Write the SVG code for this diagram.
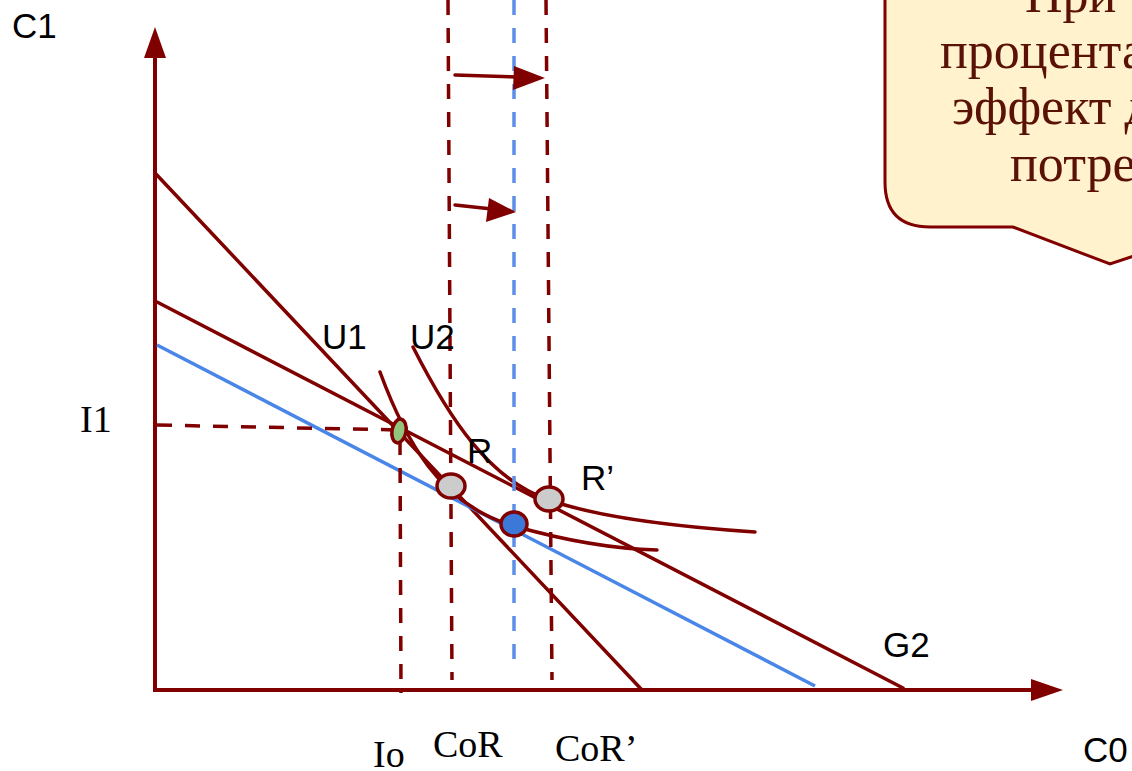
<svg xmlns="http://www.w3.org/2000/svg" width="1132" height="771" viewBox="0 0 1132 771">
<defs>
<style>
.ax{stroke:#800000;stroke-width:4;fill:none}
.ln{stroke:#800000;stroke-width:3.5;fill:none;stroke-linecap:round}
.bl{stroke:#4a86e8;stroke-width:3.5;fill:none}
.dr{stroke:#800000;stroke-width:3.5;fill:none;stroke-dasharray:15 13}
.db{stroke:#5b8fe8;stroke-width:3.5;fill:none;stroke-dasharray:15 13}
.lab{font-family:"Liberation Sans",Arial,sans-serif;font-size:35px;fill:#000}
.ser{font-family:"Liberation Serif","Times New Roman",serif;font-size:38px;fill:#000}
.call{font-family:"Liberation Serif","Times New Roman",serif;font-size:52px;fill:#5a1206}
.pt{stroke:#800000;stroke-width:3.5}
</style>
</defs>

<g id="callout">
<path d="M885,-10 L885,182 Q885,227 930,227 L1013,227 L1110,264 L1140,254 L1140,-10 Z" fill="#fff2cc" stroke="#800000" stroke-width="3"/>
<text class="call" x="1025" y="12">При</text>
<text class="call" x="940" y="68">процента</text>
<text class="call" x="952" y="124">эффект д</text>
<text class="call" x="1010" y="181">потре</text>
</g>

<g id="axes">
<line class="ax" x1="155" y1="692" x2="155" y2="56"/>
<path d="M155,27 L166,58 L144,58 Z" fill="#800000"/>
<line class="ax" x1="153" y1="690" x2="1033" y2="690"/>
<path d="M1063,690 L1031,679 L1031,701 Z" fill="#800000"/>
</g>

<g id="connectors">
<line class="ln" x1="155" y1="173" x2="642" y2="690"/>
<line class="ln" x1="157" y1="302" x2="903" y2="688"/>
<line class="bl" x1="157" y1="345" x2="815" y2="686"/>
<path class="ln" d="M380,372 C405,440 440,505 514,526 C570,542 620,549 657,550"/>
<path class="ln" d="M413,347 C450,420 490,480 549,500 C600,518 680,527 755,532"/>
<line class="dr" x1="157" y1="425" x2="400" y2="430"/>
<line class="dr" x1="400" y1="440" x2="401" y2="693"/>
<line class="dr" x1="448" y1="0" x2="452" y2="680"/>
<line class="db" x1="514" y1="0" x2="514" y2="672"/>
<line class="dr" x1="546" y1="0" x2="552" y2="680"/>
<line class="ln" x1="455" y1="75" x2="520" y2="77" stroke-width="4"/>
<path d="M545,78 L514,66 L513,90 Z" fill="#800000"/>
<line class="ln" x1="455" y1="205" x2="492" y2="209" stroke-width="4"/>
<path d="M516,212 L489,198 L486,222 Z" fill="#800000"/>
</g>

<g id="pointA"><ellipse class="pt" cx="399" cy="431" rx="7" ry="12" transform="rotate(10 399 431)" fill="#93c47d"/></g>
<g id="pointR"><ellipse class="pt" cx="451" cy="486" rx="14" ry="12" fill="#cccccc"/></g>
<g id="pointB"><ellipse class="pt" cx="514" cy="524" rx="13" ry="12" fill="#3c78d8"/></g>
<g id="pointR2"><ellipse class="pt" cx="549" cy="499" rx="14" ry="12" fill="#cccccc"/></g>

<g id="labels">
<text class="lab" x="12" y="38">C1</text>
<text class="lab" x="322" y="349">U1</text>
<text class="lab" x="410" y="349">U2</text>
<text class="lab" x="467" y="463">R</text>
<text class="lab" x="581" y="490">R’</text>
<text class="lab" x="883" y="657">G2</text>
<text class="lab" x="1083" y="762">C0</text>
<text class="ser" x="80" y="432">I1</text>
<text class="ser" x="373" y="767">Io</text>
<text class="ser" x="433" y="757">CoR</text>
<text class="ser" x="555" y="761">CoR’</text>
</g>
</svg>
